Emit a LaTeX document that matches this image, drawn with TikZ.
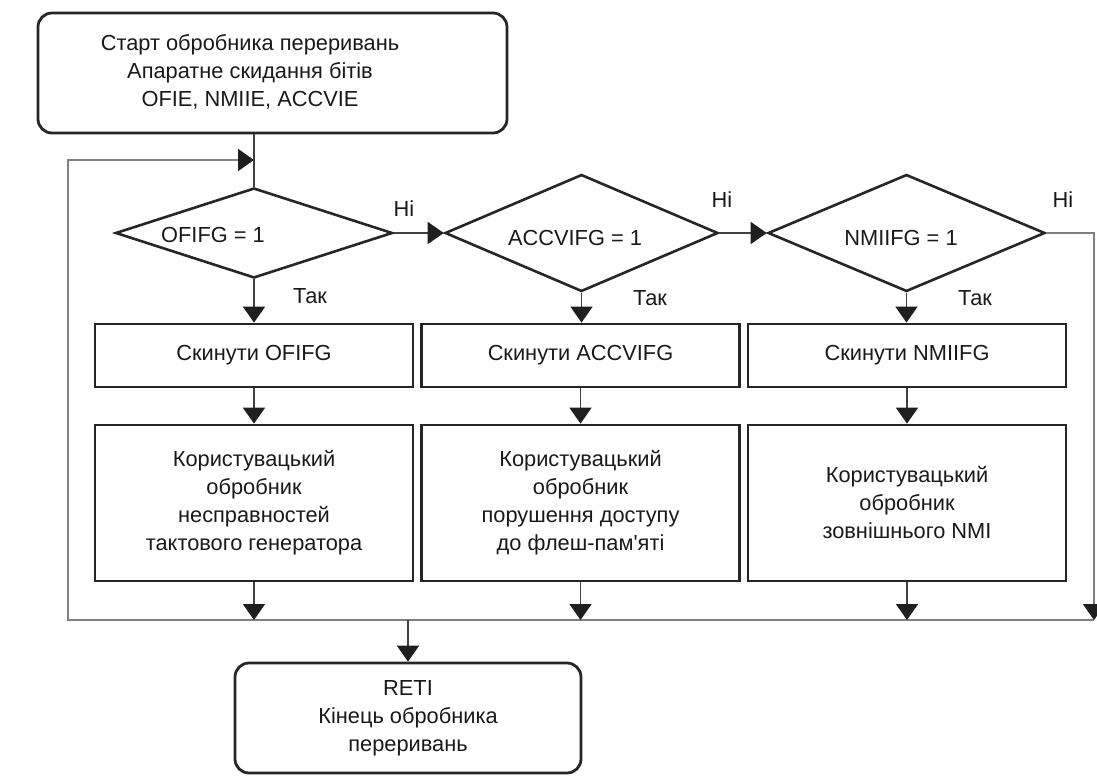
\documentclass[tikz,border=0pt]{standalone}
\usepackage{fontspec}
\setmainfont{Liberation Sans}
% a family without TeX ligatures keeps the straight apostrophe
\newfontfamily\plainsans{Liberation Sans}
\usetikzlibrary{shapes.geometric,arrows.meta}

\begin{document}
\begin{tikzpicture}[x=1pt,y=-1pt,
  font=\plainsans\fontsize{21.8}{28}\selectfont,
  box/.style={draw=black!85,line width=2.8pt,inner sep=0pt,align=center,text=black!90},
  termbox/.style={box,rounded corners=14pt},
  stepbox/.style={box,minimum width=318pt,minimum height=63pt},
  handlerbox/.style={box,minimum width=318pt,minimum height=156pt},
  decision/.style={diamond,draw=black!85,line width=2.6pt,inner sep=0pt},
  txt/.style={align=center,inner sep=0pt,text=black!90},
  tip/.style={-{Triangle[width=22pt,length=16pt,color=black!88]}},
  flow/.style={draw=black!75,line width=1.8pt,tip},
  link/.style={draw=black!75,line width=1.8pt},
  loopline/.style={draw=black!50,line width=1.7pt},
]
\useasboundingbox (0,0) rectangle (1097,776);

% start of the handler
\node[termbox,minimum width=469pt,minimum height=120pt] (start) at (272.5,73) {};
\node[txt] (starttext) at (250,72)
  {Старт обробника переривань\\Апаратне скидання бітів\\OFIE, NMIIE, ACCVIE};

% flag tests
\node[decision,minimum width=277pt,minimum height=90pt]  (d1) at (254,233) {};
\node[decision,minimum width=273pt,minimum height=117pt] (d2) at (581.5,233) {};
\node[decision,minimum width=277pt,minimum height=117pt] (d3) at (906.5,233) {};
\node[txt] (d1t) at (213,235) {OFIFG = 1};
\node[txt] (d2t) at (575,238) {ACCVIFG = 1};
\node[txt] (d3t) at (901,238) {NMIIFG = 1};

% branch labels
\node[txt] (no1)  at (404,209) {Ні};
\node[txt] (no2)  at (722,200) {Ні};
\node[txt] (no3)  at (1063,200) {Ні};
\node[txt] (yes1) at (310,296) {Так};
\node[txt] (yes2) at (650,298) {Так};
\node[txt] (yes3) at (975,298) {Так};

% flag clearing
\node[stepbox] (b1) at (254,355.5) {Скинути OFIFG};
\node[stepbox] (b2) at (580.5,355.5) {Скинути ACCVIFG};
\node[stepbox] (b3) at (907,355.5) {Скинути NMIIFG};

% user handlers
\node[handlerbox] (h1) at (254,503)
  {Користувацький\\обробник\\несправностей\\тактового генератора};
\node[handlerbox] (h2) at (580.5,503)
  {Користувацький\\обробник\\порушення доступу\\до флеш-пам'яті};
\node[handlerbox] (h3) at (907,503)
  {Користувацький\\обробник\\зовнішнього NMI};

% end of the handler
\node[termbox,minimum width=346pt,minimum height=110pt] (reti) at (408,718)
  {RETI\\Кінець обробника\\переривань};

% collecting line and return loop
\coordinate (busL) at (68,620);
\coordinate (busR) at (1094,620);
\coordinate (loopT) at (68,160);

\draw[link] (d1.north |- start.south) -- (d1.north);
\draw[loopline,tip] (busR) -- (busL) -- (loopT) -- (d1.north |- loopT);
\draw[loopline,tip] (d3.east) -- (busR |- d3.east) -- (busR);

\draw[flow] (d1.east) -- (d2.west);
\draw[flow] (d2.east) -- (d3.west);

\draw[flow] (d1.south) -- (b1.north);
\draw[flow] (d2.south) -- (d2.south |- b2.north);
\draw[flow] (d3.south) -- (d3.south |- b3.north);

\draw[flow] (b1.south) -- (h1.north);
\draw[flow] (b2.south) -- (h2.north);
\draw[flow] (b3.south) -- (h3.north);

\draw[flow] (h1.south) -- (h1.south |- busL);
\draw[flow] (h2.south) -- (h2.south |- busL);
\draw[flow] (h3.south) -- (h3.south |- busL);

\draw[flow] (reti.north |- busL) -- (reti.north);
\end{tikzpicture}
\end{document}
